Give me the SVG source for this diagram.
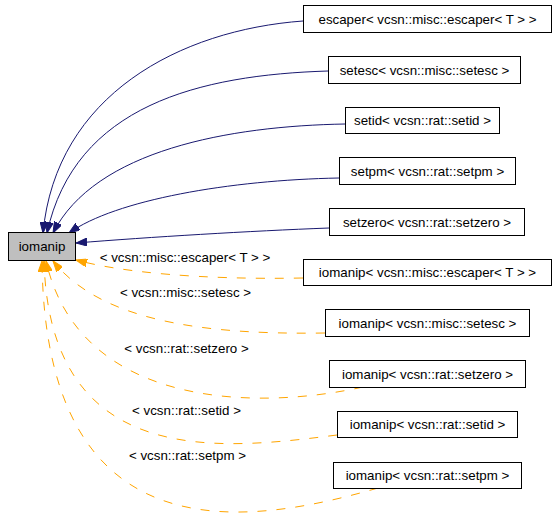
<svg xmlns="http://www.w3.org/2000/svg" width="557" height="521" viewBox="0 0 557 521">
<style>
.box{fill:#ffffff;stroke:#000000;stroke-width:1}
.root{fill:#bfbfbf;stroke:#000000;stroke-width:1}
text{font-family:"Liberation Sans",Arial,sans-serif;font-size:13.33px;fill:#000000;text-anchor:middle}
.inh{fill:none;stroke:#191970;stroke-width:1;marker-end:url(#ab)}
.tpl{fill:none;stroke:#ffa500;stroke-width:1;stroke-dasharray:9,10;marker-end:url(#ao)}
</style>
<defs>
<marker id="ab" viewBox="0 0 11 8" refX="11" refY="4" markerWidth="11" markerHeight="8" orient="auto" markerUnits="userSpaceOnUse"><path d="M0,0 L11,4 L0,8 z" fill="#191970" stroke="#191970" stroke-width="1"/></marker>
<marker id="ao" viewBox="0 0 11 8" refX="11" refY="4" markerWidth="11" markerHeight="8" orient="auto" markerUnits="userSpaceOnUse"><path d="M0,0 L11,4 L0,8 z" fill="#ffa500" stroke="#ffa500" stroke-width="1" stroke-dasharray="none"/></marker>
</defs>
<rect width="557" height="521" fill="#ffffff"/>
<g id="connectors">
<path class="inh" d="M303,21 C180,30 56,95 43,233"/>
<path class="inh" d="M328,71 C200,75 75,105 47,233"/>
<path class="inh" d="M345,124 C230,126 95,150 53,233"/>
<path class="inh" d="M339,178 C230,180 115,200 69,233"/>
<path class="inh" d="M329,228 C250,231 150,237 76,243"/>
<path class="tpl" d="M303,278 C200,280 120,272 76,260"/>
<path class="tpl" d="M325,333 C200,335 100,320 53,261"/>
<path class="tpl" d="M363,387 C260,410 80,410 46,261"/>
<path class="tpl" d="M337,435 C220,450 50,470 44,261"/>
<path class="tpl" d="M378,488 C250,525 45,560 42,261"/>
<text x="185" y="262">&lt; vcsn::misc::escaper&lt; T &gt; &gt;</text>
<text x="185.5" y="297">&lt; vcsn::misc::setesc &gt;</text>
<text x="186.5" y="353">&lt; vcsn::rat::setzero &gt;</text>
<text x="186.5" y="415">&lt; vcsn::rat::setid &gt;</text>
<text x="187.5" y="460">&lt; vcsn::rat::setpm &gt;</text>
</g>
<g id="iomanip"><rect class="root" x="8.5" y="232.5" width="67" height="28"/><text x="42" y="251">iomanip</text></g>
<g id="escaper"><rect class="box" x="303.5" y="5.5" width="248" height="27"/><text x="427.5" y="23.5">escaper&lt; vcsn::misc::escaper&lt; T &gt; &gt;</text></g>
<g id="setesc"><rect class="box" x="328.5" y="56.5" width="192" height="27"/><text x="424.5" y="74.5">setesc&lt; vcsn::misc::setesc &gt;</text></g>
<g id="setid"><rect class="box" x="345.5" y="107.5" width="154" height="26"/><text x="422.5" y="125">setid&lt; vcsn::rat::setid &gt;</text></g>
<g id="setpm"><rect class="box" x="339.5" y="157.5" width="176" height="27"/><text x="427.5" y="175.5">setpm&lt; vcsn::rat::setpm &gt;</text></g>
<g id="setzero"><rect class="box" x="329.5" y="208.5" width="195" height="27"/><text x="427" y="226.5">setzero&lt; vcsn::rat::setzero &gt;</text></g>
<g id="iomanip_escaper"><rect class="box" x="303.5" y="259.5" width="248" height="26"/><text x="427.5" y="277">iomanip&lt; vcsn::misc::escaper&lt; T &gt; &gt;</text></g>
<g id="iomanip_setesc"><rect class="box" x="325.5" y="309.5" width="204" height="27"/><text x="427.5" y="327.5">iomanip&lt; vcsn::misc::setesc &gt;</text></g>
<g id="iomanip_setzero"><rect class="box" x="329.5" y="360.5" width="196" height="27"/><text x="427.5" y="378.5">iomanip&lt; vcsn::rat::setzero &gt;</text></g>
<g id="iomanip_setid"><rect class="box" x="337.5" y="411.5" width="180" height="26"/><text x="427.5" y="429">iomanip&lt; vcsn::rat::setid &gt;</text></g>
<g id="iomanip_setpm"><rect class="box" x="333.5" y="462.5" width="188" height="26"/><text x="427.5" y="480">iomanip&lt; vcsn::rat::setpm &gt;</text></g>
</svg>
